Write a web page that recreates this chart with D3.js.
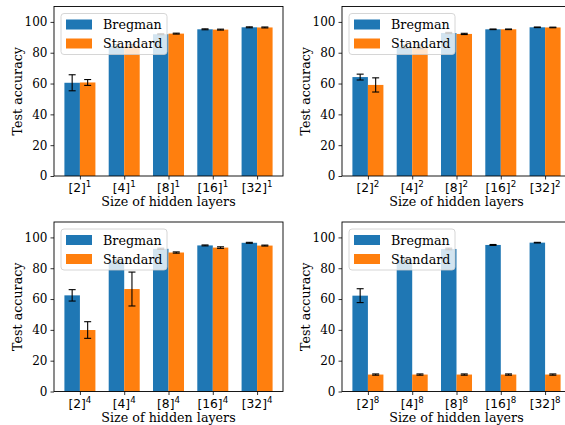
<!DOCTYPE html>
<html>
<head>
<meta charset="utf-8">
<script src="https://cdn.jsdelivr.net/npm/d3@7"></script>
<style>
  body { margin: 0; background: #fff; }
  svg { display: block; }
</style>
</head>
<body>
<div id="canvas"></div>
<script>
// data
var categories = ["2", "4", "8", "16", "32"];
var depths = [1, 2, 4, 8];
var yTicks = [0, 20, 40, 60, 80, 100];
var seriesNames = ["Bregman", "Standard"];
var colors = ["#1f77b4", "#ff7f0e"];

// one row per panel (depth 1, 2, 4, 8)
var bregmanMean = [
  [60.5, 84.3, 92.0, 95.2, 96.5],
  [64.2, 83.8, 92.8, 95.2, 96.5],
  [62.4, 85.0, 92.6, 94.8, 96.5],
  [62.2, 85.5, 92.5, 95.1, 96.6],
];
var bregmanErr = [
  [5.2, 1.0, 0.3, 0.3, 0.3],
  [1.9, 1.0, 0.4, 0.2, 0.2],
  [3.7, 0.8, 0.4, 0.3, 0.3],
  [4.5, 1.0, 0.5, 0.3, 0.2],
];
var standardMean = [
  [60.7, 84.5, 92.4, 95.0, 96.4],
  [59.1, 83.8, 92.2, 95.2, 96.4],
  [39.9, 66.5, 90.2, 93.4, 94.7],
  [11.0, 11.0, 11.0, 11.0, 11.0],
];
var standardErr = [
  [1.9, 0.8, 0.3, 0.3, 0.3],
  [4.6, 1.2, 0.4, 0.2, 0.2],
  [5.4, 11.0, 0.4, 0.5, 0.3],
  [0.4, 0.4, 0.4, 0.4, 0.4],
];

var fullW = 565, fullH = 425;
var panelW = 229, panelH = 169.5;
var barW = 0.35;

var svg = d3
  .select("#canvas")
  .append("svg")
  .attr("width", fullW)
  .attr("height", fullH);

var x = d3.scaleLinear().domain([-0.585, 4.585]).range([0, panelW]);
var y = d3.scaleLinear().domain([0, 110]).range([panelH, 0]);

depths.forEach(function (depth, p) {
  var col = p % 2, row = Math.floor(p / 2);
  var left = 54 + col * 288;
  var top = 6.5 + row * 215.5;

  var g = svg.append("g").attr("transform", "translate(" + left + "," + top + ")");

  // bars + error bars for both series
  var series = [
    { mean: bregmanMean[p], err: bregmanErr[p], off: -barW },
    { mean: standardMean[p], err: standardErr[p], off: 0 },
  ];

  series.forEach(function (s, k) {
    var rows = categories.map(function (c, i) {
      return { i: i, v: s.mean[i], e: s.err[i] };
    });
    g.selectAll(".bar" + k)
      .data(rows)
      .enter()
      .append("rect")
      .attr("x", (d) => x(d.i + s.off))
      .attr("y", (d) => y(d.v))
      .attr("width", x(barW) - x(0))
      .attr("height", (d) => y(0) - y(d.v))
      .attr("fill", colors[k]);

    var eb = g.selectAll(".err" + k)
      .data(rows)
      .enter()
      .append("g")
      .attr("transform", (d) => "translate(" + x(d.i + s.off + barW / 2) + ",0)")
      .attr("stroke", "#000")
      .attr("stroke-width", 1.1);
    eb.append("line")
      .attr("y1", (d) => y(d.v - d.e))
      .attr("y2", (d) => y(d.v + d.e));
    eb.append("line")
      .attr("x1", -3.5).attr("x2", 3.5)
      .attr("y1", (d) => y(d.v - d.e))
      .attr("y2", (d) => y(d.v - d.e));
    eb.append("line")
      .attr("x1", -3.5).attr("x2", 3.5)
      .attr("y1", (d) => y(d.v + d.e))
      .attr("y2", (d) => y(d.v + d.e));
  });

  // y axis
  var ya = g.append("g")
    .call(d3.axisLeft(y).tickValues(yTicks).tickSize(3.5).tickPadding(3));
  ya.select(".domain").remove();
  ya.selectAll("line").attr("stroke-width", 0.8);
  ya.selectAll("text")
    .attr("fill", "#000")
    .style("font-family", "'DejaVu Serif', serif")
    .style("font-size", "12px");

  // x axis, tick labels drawn by hand for the superscript
  var xa = g.append("g")
    .attr("transform", "translate(0," + panelH + ")")
    .call(d3.axisBottom(x).tickValues(d3.range(categories.length)).tickSize(3.5).tickFormat(""));
  xa.select(".domain").remove();
  xa.selectAll("line").attr("stroke-width", 0.8);

  var lbl = g.selectAll(".xl")
    .data(categories)
    .enter()
    .append("text")
    .attr("x", (d, i) => x(i))
    .attr("y", panelH + 16)
    .attr("text-anchor", "middle")
    .style("font-family", "'DejaVu Sans', sans-serif")
    .style("font-size", "12.3px");
  lbl.append("tspan").text((d) => "[" + d + "]");
  lbl.append("tspan")
    .attr("dy", -5)
    .style("font-size", "8.7px")
    .text(depth);

  // frame
  g.append("rect")
    .attr("width", panelW)
    .attr("height", panelH)
    .attr("fill", "none")
    .attr("stroke", "#000")
    .attr("stroke-width", 0.9);

  // axis titles
  g.append("text")
    .attr("x", panelW / 2)
    .attr("y", panelH + 30)
    .attr("text-anchor", "middle")
    .style("font-family", "'DejaVu Serif', serif")
    .style("font-size", "12.7px")
    .text("Size of hidden layers");

  g.append("text")
    .attr("transform", "translate(-32," + panelH / 2 + ") rotate(-90)")
    .attr("text-anchor", "middle")
    .style("font-family", "'DejaVu Serif', serif")
    .style("font-size", "12.7px")
    .text("Test accuracy");

  // legend
  var leg = g.append("g").attr("transform", "translate(7,7)");
  leg.append("rect")
    .attr("width", 106)
    .attr("height", 41)
    .attr("rx", 3)
    .attr("fill", "#fff")
    .attr("fill-opacity", 0.8)
    .attr("stroke", "#ccc")
    .attr("stroke-width", 0.8);
  leg.selectAll(".sw")
    .data(seriesNames)
    .enter()
    .append("rect")
    .attr("x", 5)
    .attr("y", (d, i) => 6 + i * 19)
    .attr("width", 26)
    .attr("height", 10)
    .attr("fill", (d, i) => colors[i]);
  leg.selectAll(".lt")
    .data(seriesNames)
    .enter()
    .append("text")
    .attr("x", 42)
    .attr("y", (d, i) => 15.5 + i * 19)
    .style("font-family", "'DejaVu Serif', serif")
    .style("font-size", "12.7px")
    .text((d) => d);
});
</script>
</body>
</html>
